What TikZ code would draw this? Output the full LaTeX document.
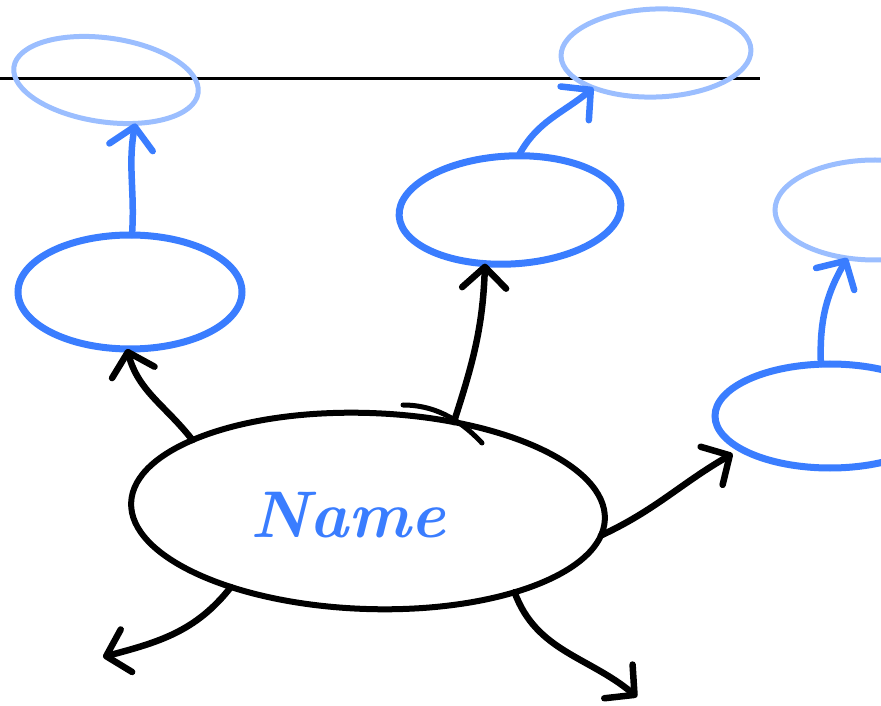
\documentclass[tikz,border=0pt]{standalone}
\usetikzlibrary{shapes.geometric,arrows.meta}
\definecolor{bblue}{HTML}{3A7DFF}
\definecolor{lblue}{HTML}{9BBEFF}
\begin{document}
\begin{tikzpicture}[x=1pt,y=1pt,
  oval/.style={ellipse, inner sep=0pt, outer sep=0pt},
  mainoval/.style={oval, draw=black, line width=6pt},
  bluoval/.style={oval, draw=bblue, line width=7pt},
  lightoval/.style={oval, draw=lblue, line width=5pt},
  tipk/.style={-{Straight Barb[length=21pt,width=44pt,round]}},
  bconn/.style={tipk, line width=6.5pt, black, line cap=round},
  uconn/.style={tipk, line width=6.5pt, bblue, line cap=round},
  rule/.style={line width=3pt, black}]
\useasboundingbox (0,0) rectangle (881,705);
\clip (0,0) rectangle (881,705);
% horizontal rule
\coordinate (r0) at (0,626);
\coordinate (r1) at (760,626);
\draw[rule] (r0) -- (r1);
% ellipses
\node[lightoval, minimum width=186pt, minimum height=84pt, rotate=-8] (tl) at (106,625) {};
\node[bluoval, minimum width=224pt, minimum height=114pt] (left) at (130,413) {};
\node[bluoval, minimum width=222pt, minimum height=108pt, rotate=3] (tc) at (510,495) {};
\node[lightoval, minimum width=190pt, minimum height=88pt, rotate=2] (tr) at (656,652) {};
\node[bluoval, minimum width=230pt, minimum height=104pt] (right) at (830,289) {};
\node[lightoval, minimum width=200pt, minimum height=100pt] (rtop) at (875,495) {};
\node[mainoval, minimum width=474pt, minimum height=196pt, rotate=-2] (main) at (368,194) {};
\draw[line width=5pt, line cap=round] (403,300) .. controls (440,300) and (465,280) .. (482,262);
\node[text=bblue, font=\fontsize{66}{66}\selectfont\bfseries\itshape] (name) at (348,190) {Name};
% connectors
\coordinate (bl) at (103,48);
\coordinate (br) at (637,8);
\draw[bconn] (main.160) to[out=128, in=-75] (left.-93);
\draw[bconn] (main.48) to[out=72, in=-92] (tc.-118);
\draw[bconn] (main.-4) to[out=25, in=210] ([xshift=-35pt,yshift=6pt]right.215);
\draw[bconn] (main.211) to[out=-128, in=15] (bl);
\draw[bconn] (main.-27) to[out=-70, in=140] (br);
\draw[uconn] (left.88) to[out=86, in=-100] (tl.-48);
\draw[uconn] (tc.78) to[out=62, in=220] (tr.207);
\draw[uconn] (right.100) to[out=92, in=240] (rtop.-120);
\end{tikzpicture}
\end{document}
